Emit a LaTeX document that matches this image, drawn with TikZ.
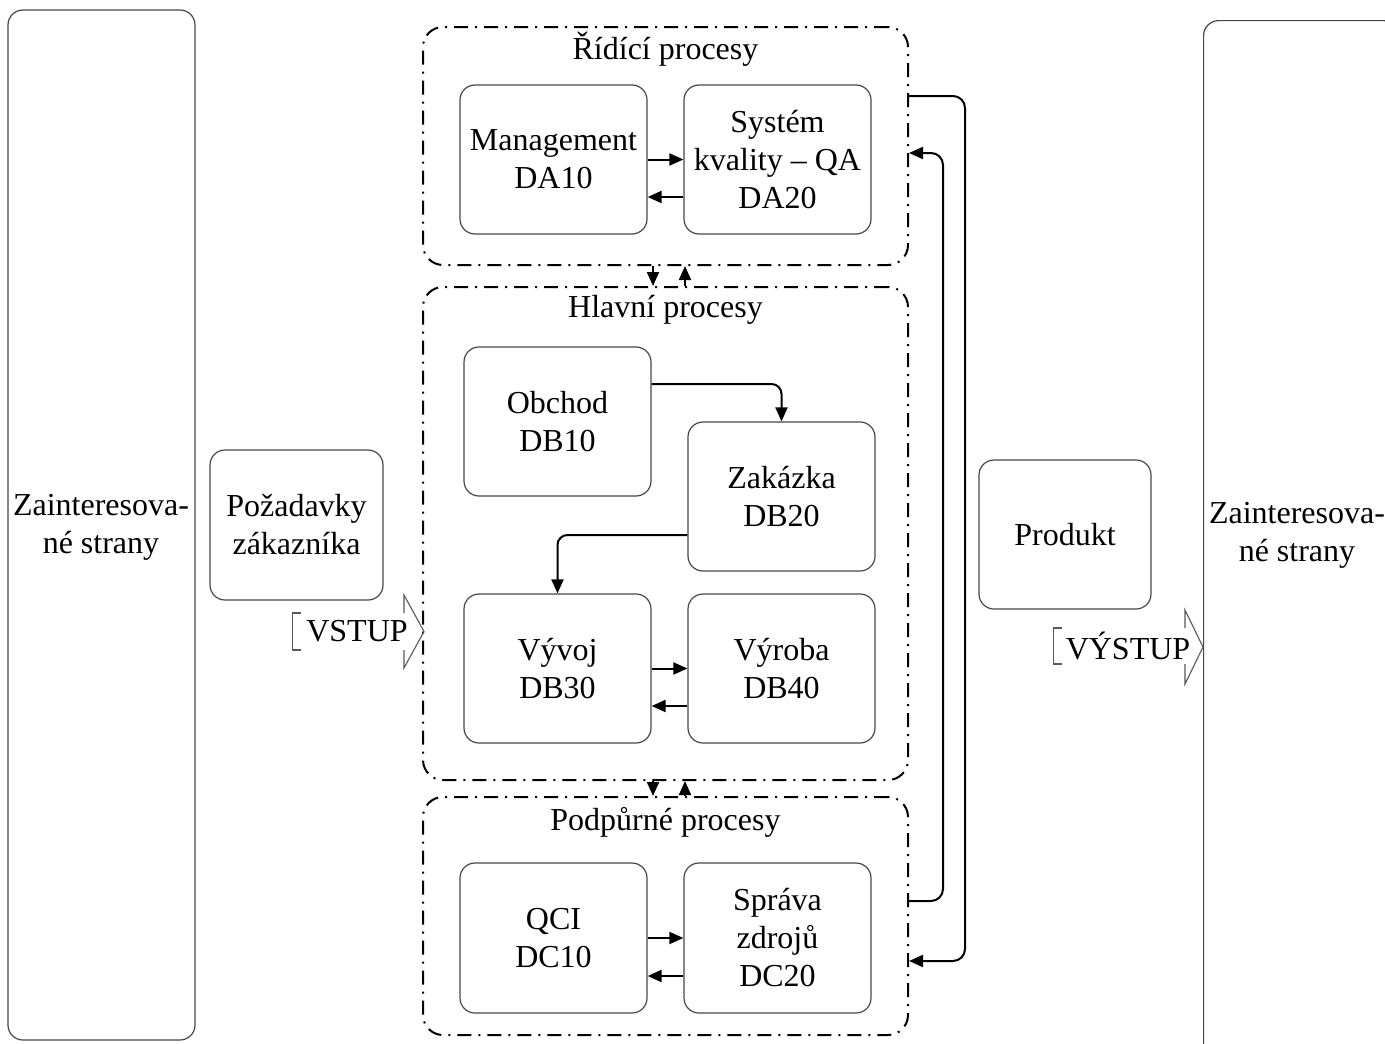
\documentclass[tikz,border=0pt]{standalone}
\usepackage{fontspec}
\setmainfont{Liberation Serif}
\usetikzlibrary{arrows.meta}
\begin{document}
\begin{tikzpicture}[x=1pt,y=-1pt,
  every node/.style={font=\fontsize{32}{38}\selectfont, align=center},
  box/.style={draw=black!72, line width=1.2pt, rounded corners=15pt, inner sep=0pt},
  grp/.style={draw=black, line width=2pt, rounded corners=20pt, dash pattern=on 14pt off 7pt on 2pt off 7pt, inner sep=0pt, minimum width=485pt},
  arr/.style={draw=black, line width=2pt, -{Triangle[length=14pt,width=12pt]}},
  bigarrow/.style={draw=black!65, line width=1.1pt}
]
\useasboundingbox (0,0) rectangle (1385,1044);
\fill[white] (0,0) rectangle (1385,1044);

% side boxes
\node[box, minimum width=187pt, minimum height=1030pt] (left) at (101.5,525) {};
\node at (101,527) {Zainteresova-\\né strany};
\node[box, minimum width=195pt, minimum height=1040pt, anchor=north west] (right) at (1203,20) {};
\node at (1297,535) {Zainteresova-\\né strany};

\node[box, minimum width=173pt, minimum height=150pt] (poz) at (296.5,525) {Požadavky\\zákazníka};
\node[box, minimum width=172pt, minimum height=149pt] (prod) at (1065,534.5) {Produkt};

% groups
\node[grp, minimum height=238pt] (g1) at (665.5,146) {};
\node[grp, minimum height=493pt] (g2) at (665.5,533.5) {};
\node[grp, minimum height=238pt] (g3) at (665.5,916) {};
\node[anchor=north] (t1) at ([yshift=-2pt]g1.north) {Řídící procesy};
\node[anchor=north] (t2) at ([yshift=-6pt]g2.north) {Hlavní procesy};
\node[anchor=north] (t3) at ([yshift=-8pt]g3.north) {Podpůrné procesy};

% inner boxes
\node[box, minimum width=187pt, minimum height=149pt] (mgmt) at (553.5,159.5) {Management\\DA10};
\node[box, minimum width=187pt, minimum height=149pt] (qa) at (777.5,159.5) {Systém\\kvality – QA\\DA20};
\node[box, minimum width=187pt, minimum height=149pt] (obch) at (557.5,421.5) {Obchod\\DB10};
\node[box, minimum width=187pt, minimum height=149pt] (zak) at (781.5,496.5) {Zakázka\\DB20};
\node[box, minimum width=187pt, minimum height=149pt] (vyv) at (557.5,668.5) {Vývoj\\DB30};
\node[box, minimum width=187pt, minimum height=149pt] (vyr) at (781.5,668.5) {Výroba\\DB40};
\node[box, minimum width=187pt, minimum height=150pt] (qci) at (553.5,938) {QCI\\DC10};
\node[box, minimum width=187pt, minimum height=150pt] (spr) at (777.5,938) {Správa\\zdrojů\\DC20};

% connectors inside groups
\draw[arr] (mgmt.east) -- (qa.west);
\draw[arr] ([yshift=-37.5pt]qa.west) -- ([yshift=-37.5pt]mgmt.east);
\draw[arr] (vyv.east) -- (vyr.west);
\draw[arr] ([yshift=-37.5pt]vyr.west) -- ([yshift=-37.5pt]vyv.east);
\draw[arr] (qci.east) -- (spr.west);
\draw[arr] ([yshift=-38pt]spr.west) -- ([yshift=-38pt]qci.east);
\draw[arr, rounded corners=10pt] ([yshift=37.5pt]obch.east) -| (zak.north);
\draw[arr, rounded corners=10pt] ([yshift=-38.5pt]zak.west) -| (vyv.north);

% between groups
\draw[arr] ([xshift=-12.5pt]g1.south) -- ([xshift=-12.5pt]g2.north);
\draw[arr] ([xshift=19.5pt]g2.north) -- ([xshift=19.5pt]g1.south);
\draw[arr] ([xshift=-12.5pt]g2.south) -- ([xshift=-12.5pt]g3.north);
\draw[arr] ([xshift=19.5pt]g3.north) -- ([xshift=19.5pt]g2.south);

% right side loops
\draw[arr, rounded corners=12pt] ([yshift=50pt]g1.east) -- ++(56,0) |- ([yshift=-45pt]g3.east);
\draw[arr, rounded corners=12pt] ([yshift=15pt]g3.east) -- ++(34,0) |- ([yshift=-7pt]g1.east);

% VSTUP block arrow
\draw[bigarrow] (301,613) -- (292.5,613) -- (292.5,650) -- (301,650);
\draw[bigarrow] (404,613) -- (404,595) -- (424,631.5) -- (404,668) -- (404,650);
\node (vstup) at (357,631) {VSTUP};

% VYSTUP block arrow
\draw[bigarrow] (1062,628) -- (1053.5,628) -- (1053.5,664) -- (1062,664);
\draw[bigarrow] (1185,628) -- (1185,610) -- (1203,647) -- (1185,684) -- (1185,664);
\node (vystup) at (1128,646) {VÝSTUP};
\end{tikzpicture}
\end{document}
